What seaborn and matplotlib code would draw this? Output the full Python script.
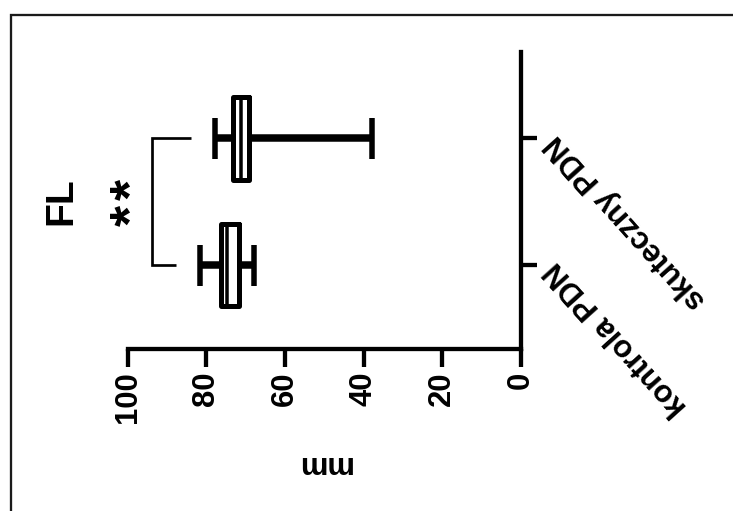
import matplotlib
matplotlib.use("Agg")
import matplotlib.pyplot as plt
import numpy as np
import pandas as pd
import seaborn as sns
from matplotlib.patches import Rectangle

# ---- data (five-number summaries: min, q1, median, q3, max) ----
groups = ["kontrola PDN", "skuteczny PDN"]
kontrola_mm = [67.9, 71.8, 74.7, 76.3, 81.7]
skuteczny_mm = [37.8, 69.1, 71.2, 73.1, 77.7]
value_ticks = [0, 20, 40, 60, 80, 100]
title_text = "FL"
signif_text = "**"
bracket_x = 93.8
bracket_ends = [87.8, 84.0]   # kontrola, skuteczny
value_label = "mm"

df = pd.DataFrame({
    "grupa": [groups[0]] * len(kontrola_mm) + [groups[1]] * len(skuteczny_mm),
    "mm": kontrola_mm + skuteczny_mm,
})

sns.set_theme(style="white")
plt.rcParams['font.family'] = ['Liberation Sans', 'DejaVu Sans']
plt.rcParams['font.weight'] = 'bold'

W, H = 733, 511
fig = plt.figure(figsize=(W / 72, H / 72), dpi=72)
fig.patch.set_facecolor("white")
ax = fig.add_axes([127.7 / W, (H - 349) / H, (520.7 - 127.7) / W, (349 - 52.5) / H])

order = [groups[1], groups[0]]
sns.boxplot(data=df, x="mm", y="grupa", order=order, orient="h",
            whis=(0, 100), width=0.65, fill=False, color="black",
            linewidth=5, showfliers=False,
            whiskerprops=dict(linewidth=7.5, solid_capstyle="butt"),
            capprops=dict(linewidth=5.5, solid_capstyle="butt"),
            medianprops=dict(linewidth=3.5, solid_capstyle="butt"),
            boxprops=dict(linewidth=5),
            ax=ax)

ax.set_xlim(100, 0)
ax.set_ylim(1.661, -0.677)
ax.set_facecolor("white")
for s in ["top", "left"]:
    ax.spines[s].set_visible(False)
for s in ["bottom", "right"]:
    ax.spines[s].set_visible(True)
    ax.spines[s].set_linewidth(4.3)
    ax.spines[s].set_color("black")
    ax.spines[s].set_capstyle("projecting")

ax.yaxis.tick_right()
ax.tick_params(axis="y", direction="out", length=16, width=4.3, pad=14,
               colors="black", right=True, left=False)
ax.tick_params(axis="x", direction="out", length=17.5, width=4.3, pad=5,
               colors="black", bottom=True)
ax.set_yticks([0, 1])
ax.set_yticklabels(order, fontsize=31, fontweight="bold")
for lab in ax.get_yticklabels():
    lab.set_rotation(132)
    lab.set_rotation_mode("anchor")
    lab.set_ha("right")
    lab.set_va("center")
ax.set_xticks(value_ticks)
ax.set_xticklabels([str(v) for v in value_ticks], rotation=90,
                   fontsize=31, fontweight="bold")
ax.set_xlabel("")
ax.set_ylabel("")

# significance bracket
ax.plot([bracket_ends[1], bracket_x, bracket_x, bracket_ends[0]], [0, 0, 1, 1],
        color="black", lw=2.7, solid_capstyle="butt", solid_joinstyle="miter",
        clip_on=False)

fig.text(61 / W, 1 - 201 / H, title_text, rotation=90, fontsize=39,
         fontweight="bold", ha="center", va="center", color="black")
# the significance stars, drawn one by one with a small gap between them
for ch, yc in zip(signif_text, [216, 190]):
    fig.text(133.5 / W, 1 - yc / H, ch, rotation=90, fontsize=54,
             fontweight="bold", ha="center", va="center", color="black")
fig.text(323 / W, 1 - 464 / H, value_label, rotation=180, fontsize=31,
         fontweight="bold", ha="center", va="center", color="black")

fig.add_artist(Rectangle((11.3 / W, -0.1), 1.2, (H - 14.5) / H + 0.1,
                         transform=fig.transFigure, fill=False,
                         ec="#1a1a1a", lw=2.3))

fig.savefig("out.png", dpi=72, facecolor="white")
